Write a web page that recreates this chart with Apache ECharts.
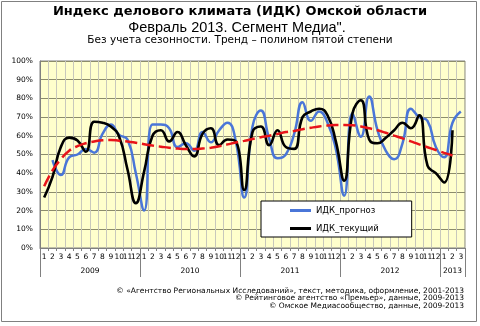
<!DOCTYPE html>
<html>
<head>
<meta charset="utf-8">
<script src="https://cdn.jsdelivr.net/npm/echarts@6/dist/echarts.min.js"></script>
<style>
  html, body { margin: 0; padding: 0; background: #ffffff; }
  #chart { width: 480px; height: 326px; }
</style>
</head>
<body>
<div id="chart"></div>
<script>
// Month labels along the bottom axis (Jan 2009 – Mar 2013)
const monthLabels = [
  '1','2','3','4','5','6','7','8','9','10','11','12',
  '1','2','3','4','5','6','7','8','9','10','11','12',
  '1','2','3','4','5','6','7','8','9','10','11','12',
  '1','2','3','4','5','6','7','8','9','10','11','12',
  '1','2','3'
];
const yearLabels = ['2009', '2010', '2011', '2012', '2013'];
const monthsPerYear = [12, 12, 12, 12, 3];

// ИДК_прогноз, %  (forecast starts in Feb 2009)
const forecast = [
  null, 47, 39, 48.5, 50, 53, 51, 61, 66, 60.5, 58, 40,
  20, 66, 66, 64, 54, 56, 52, 62, 56.5, 63, 67, 57,
  27, 65, 73.5, 58.5, 48, 50, 61, 78, 68, 73, 67, 53,
  28, 72, 59.5, 81, 63, 52, 47.5, 56, 74.5, 70, 68, 54,
  48.5, 67, 73
];

// ИДК_текущий, %  (current index through Feb 2013)
const current = [
  27, 38, 54, 59, 57.5, 51.5, 67.5, 67, 65, 59.5, 42, 24,
  41, 60, 63, 57, 62, 55, 49, 61, 64, 55, 58, 57,
  31, 62, 65, 55, 63, 54, 53, 70, 73, 74.5, 71, 57,
  36, 72, 79, 58, 56, 59, 63, 67, 64, 71, 44, 40,
  35, 63, null
];

// Fifth-degree polynomial trend of the current index, %
const trend = [
  33, 41.5, 47.5, 52, 54.5, 56, 57, 57.6, 57.7, 57.4, 57, 56.3,
  55.5, 54.8, 54.2, 53.6, 53.2, 53, 53, 53.2, 53.6, 54.4, 55.4, 56.4,
  57.3, 58.3, 59.2, 60, 61, 62, 62.6, 63.5, 64.3, 65, 65.5, 65.8,
  65.8, 65.6, 65, 64, 63, 61.6, 60.1, 58.6, 57, 55.4, 53.9, 52.4,
  50.9, 49.5, null
];

// Year separators and year-label centres along the month scale
const yearBounds = [0];
monthsPerYear.forEach((m, k) => yearBounds.push(yearBounds[k] + m));
const yearCenters = monthsPerYear.map((m, k) => yearBounds[k] + m / 2);

const FONT = '"DejaVu Sans", Verdana, sans-serif';
const chart = echarts.init(document.getElementById('chart'), null, { renderer: 'canvas' });

chart.setOption({
  animation: false,
  backgroundColor: '#ffffff',
  grid: {
    left: 40, right: 15, top: 61, bottom: 78,
    show: true,
    backgroundColor: '#FFFFCC',
    borderColor: '#808080',
    borderWidth: 1
  },
  xAxis: [
    {
      type: 'category',
      data: monthLabels,
      boundaryGap: true,
      axisLine: { show: true, lineStyle: { color: '#808080', width: 1 } },
      axisTick: { show: true, interval: 0, length: 3, lineStyle: { color: '#808080' } },
      axisLabel: { interval: 0, fontSize: 7.5, fontFamily: FONT, color: '#000', margin: 5 },
      splitLine: { show: true, interval: 0, lineStyle: { color: '#C8C8BC', width: 1 } }
    },
    {
      type: 'value',
      min: 0,
      max: yearBounds[yearBounds.length - 1],
      position: 'bottom',
      axisLine: { show: false },
      splitLine: { show: false },
      axisTick: {
        show: true, customValues: yearBounds, length: 29,
        lineStyle: { color: '#808080', width: 1 }
      },
      axisLabel: {
        customValues: yearCenters,
        formatter: (v) => yearLabels[yearCenters.indexOf(v)],
        fontSize: 7.5, fontFamily: FONT, color: '#000', margin: 19
      }
    }
  ],
  yAxis: {
    type: 'value',
    min: 0, max: 100, interval: 10,
    axisLine: { show: true, lineStyle: { color: '#808080' } },
    axisTick: { show: false },
    axisLabel: { formatter: '{value}%', fontSize: 7.5, fontFamily: FONT, color: '#000', margin: 7 },
    splitLine: { show: true, lineStyle: { color: '#8C8C6C', width: 1 } }
  },
  legend: {
    data: ['ИДК_прогноз', 'ИДК_текущий'],
    orient: 'vertical',
    left: 261, top: 201,
    backgroundColor: '#ffffff',
    borderColor: '#000000',
    borderWidth: 1,
    padding: [5, 33, 4, 29],
    itemGap: 9,
    itemWidth: 21, itemHeight: 3,
    icon: 'rect',
    textStyle: { fontSize: 8.5, fontFamily: FONT, color: '#000' }
  },
  series: [
    {
      name: 'ИДК_прогноз', type: 'line', data: forecast,
      smooth: true, showSymbol: false, connectNulls: false,
      lineStyle: { color: '#4A76D8', width: 2.5 },
      itemStyle: { color: '#4A76D8' }, z: 3
    },
    {
      name: 'ИДК_текущий', type: 'line', data: current,
      smooth: true, showSymbol: false,
      lineStyle: { color: '#000000', width: 2.6 },
      itemStyle: { color: '#000000' }, z: 4
    },
    {
      name: 'Тренд', type: 'line', data: trend,
      smooth: true, showSymbol: false,
      lineStyle: { color: '#E8141A', width: 2.5, type: [12, 5] },
      itemStyle: { color: '#E8141A' }, z: 5
    }
  ],
  graphic: [
    {
      type: 'rect', silent: true, z: -1,
      shape: { x: 1.5, y: 1.5, width: 475, height: 320 },
      style: { fill: 'none', stroke: '#808080', lineWidth: 1 }
    },
    {
      type: 'text', x: 240, y: 12,
      style: { text: 'Индекс делового климата (ИДК) Омской области', font: 'bold 13px ' + FONT, fill: '#000', align: 'center', verticalAlign: 'middle' }
    },
    {
      type: 'text', x: 237, y: 28,
      style: { text: 'Февраль 2013. Сегмент Медиа".', font: '14.5px "Liberation Sans", Arial, sans-serif', fill: '#000', align: 'center', verticalAlign: 'middle' }
    },
    {
      type: 'text', x: 240, y: 40,
      style: { text: 'Без учета сезонности. Тренд – полином пятой степени', font: '10.5px ' + FONT, fill: '#000', align: 'center', verticalAlign: 'middle' }
    },
    {
      type: 'text', x: 464, y: 291,
      style: { text: '© «Агентство Региональных Исследований», текст, методика, оформление, 2001-2013', font: '7.5px ' + FONT, fill: '#000', align: 'right', verticalAlign: 'middle' }
    },
    {
      type: 'text', x: 464, y: 298.5,
      style: { text: '© Рейтинговое агентство «Премьер», данные, 2009-2013', font: '7.5px ' + FONT, fill: '#000', align: 'right', verticalAlign: 'middle' }
    },
    {
      type: 'text', x: 464, y: 306,
      style: { text: '© Омское Медиасообщество, данные, 2009-2013', font: '7.5px ' + FONT, fill: '#000', align: 'right', verticalAlign: 'middle' }
    }
  ]
});
</script>
</body>
</html>
